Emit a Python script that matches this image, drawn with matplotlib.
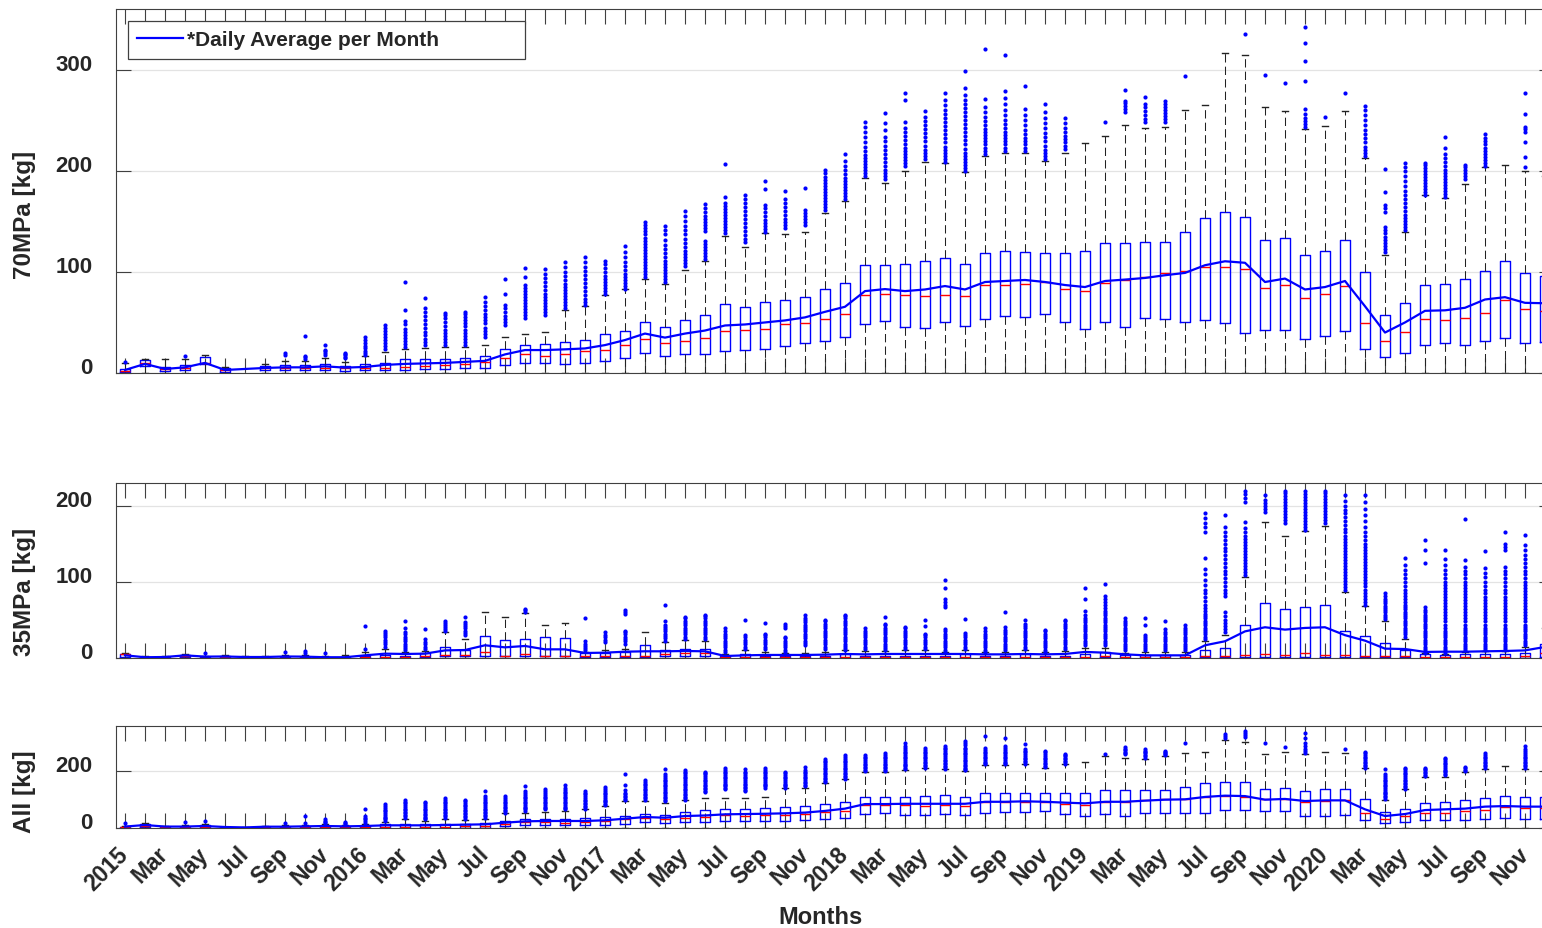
import matplotlib.pyplot as plt
import numpy as np

plt.rcParams['font.family'] = ['Liberation Sans', 'DejaVu Sans']
plt.rcParams['font.weight'] = 'bold'
plt.rcParams['text.color'] = '#262626'

nan = np.nan

# labels for every second month, Jan 2015 .. Nov 2020
tick_labels = ['2015', 'Mar', 'May', 'Jul', 'Sep', 'Nov',
               '2016', 'Mar', 'May', 'Jul', 'Sep', 'Nov',
               '2017', 'Mar', 'May', 'Jul', 'Sep', 'Nov',
               '2018', 'Mar', 'May', 'Jul', 'Sep', 'Nov',
               '2019', 'Mar', 'May', 'Jul', 'Sep', 'Nov',
               '2020', 'Mar', 'May', 'Jul', 'Sep', 'Nov']

# ---- 70MPa ----
q1_70 = [1, 7, 2, 3, 8.5, 1.3, nan, 2.6, 2.6, 2.6, 3.3, 2.3, 3, 3, 3, 3.6, 4, 4.6, 4.6, 8, 9.5, 10, 8.9, 10,
         11.8, 14.5, 20, 17, 18.4, 19, 22, 23, 24, 27, 30, 32, 36, 48.7, 51.6, 45.7, 45, 50.6, 46.7, 53, 56.6, 55, 58, 50.6,
         44, 50, 45.7, 54, 53, 50.6, 52, 49, 39.8, 42.8, 42.8, 34, 37, 41.8, 23.7, 15.5, 20, 27.6, 30, 28, 31.6, 35, 30, 31]
med_70 = [2, 9.5, 4, 4.6, 10, 3, nan, 5, 4.6, 4.6, 5, 4.6, 4.6, 5, 6, 7, 8, 8.5, 10.5, 14.5, 18.4, 17, 18.8, 22,
          23, 28, 34, 30, 32, 35, 42, 43, 44, 48, 49, 53, 58, 77.6, 78.6, 77.6, 76, 77, 76, 87.5, 87.5, 88.5, 90, 83.5,
          81, 89, 92, 95, 99, 101, 105, 105, 103, 84, 87, 74, 78, 86, 49.7, 32, 40.8, 53, 52, 54, 59.5, 72, 63, 61.5]
q3_70 = [4, 13, 6, 8, 15.5, 4.6, nan, 7.2, 7.9, 7.9, 9, 7, 9, 10, 13.5, 13.5, 14, 15, 17, 24, 27.6, 29, 31, 33,
         38.5, 41.8, 50, 45.7, 52, 57, 68, 65.5, 70, 72, 75, 83, 89.5, 107, 107, 107.6, 111, 114, 107.6, 119, 121, 120, 119, 119,
         121, 128.6, 129, 129.6, 130, 139.5, 153.6, 159, 154.6, 131.6, 133.5, 117, 120.4, 132, 100, 57, 68.8, 87.5, 87.8, 93.4, 101, 111, 99.3, 96]
whi_70 = [10, 14, 14, 14, 18, 6, nan, 9, 12, 12, 15, 11, 17, 21, 24, 25, 26, 26, 27.6, 36, 39, 41, 62, 66.5,
          77.6, 82.6, 93, 88, 102, 110.5, 135.5, 125, 138.5, 137.5, 139.5, 158.5, 170, 193, 188, 200, 209, 208, 199, 215, 218, 218, 210, 218,
          227.6, 234.5, 245.7, 242, 243, 260.5, 265.5, 316, 314.5, 262.8, 259.5, 241.4, 244.7, 259.5, 212.5, 117, 139.5, 175.7, 173.4, 187, 204, 206, 200, 195]
mean_70 = [3, 9, 4, 5.6, 10, 3, nan, 5, 5.6, 5.6, 6.6, 5.3, 6, 8, 9, 9.5, 10, 11, 12, 18.4, 22.7, 22.7, 23.4, 24.3,
           27.6, 32.6, 39, 35, 39, 42, 47, 48, 50, 52, 55, 60.5, 65.5, 81, 83, 81, 82.6, 86, 82.6, 90, 91, 92, 90, 87,
           85, 91, 92.4, 94, 96.7, 99, 106.6, 110.5, 109, 90, 93.4, 82.6, 85, 91, 66, 40, 50, 61.5, 62, 64.5, 72.7, 75, 69.4, 69]
fl_70 = [
    [11], [], [], [17], [], [], [], [], [18, 20], [14, 16, 17, 37],
    [18, 20, 22, 23, 28], [15, 16, 18, 19, 20], [18, 20, 22, 25, 27, 30, 33, 36],
    [24, 27, 30, 33, 36, 39, 42, 45, 47],
    [26, 29, 32, 35, 38, 41, 44, 48, 51, 62, 90],
    [28, 31, 34, 38, 41, 45, 48, 52, 56, 60, 64, 74],
    [28, 31, 34, 37, 40, 43, 46, 50, 54, 57, 59],
    [28, 31, 34, 37, 40, 43, 46, 49, 52, 55, 58, 60],
    [36, 39, 42, 45, 49, 52, 55, 58, 62, 66, 70, 75],
    [47, 50, 53, 56, 60, 64, 67, 78, 93],
    [54, 57, 60, 63, 66, 69, 72, 75, 78, 81, 84, 87, 95, 104],
    [57, 60, 63, 66, 69, 72, 75, 78, 82, 86, 90, 94, 98, 103],
    [64, 67, 70, 73, 76, 79, 82, 85, 88, 92, 96, 100, 105, 110],
    [67, 70, 73, 77, 81, 85, 89, 93, 97, 101, 105, 110, 115],
    [78, 81, 84, 87, 90, 93, 96, 100, 104, 108, 111],
    [83, 86, 89, 92, 95, 98, 102, 106, 110, 115, 120, 126],
    [95, 98, 101, 104, 107, 110, 113, 116, 119, 122, 125, 128, 131, 134, 137, 140, 143, 146, 149],
    [90, 93, 96, 99, 102, 105, 108, 111, 115, 119, 123, 127, 132, 137, 141, 145],
    [106, 109, 112, 115, 118, 121, 125, 129, 133, 137, 141, 145, 150, 155, 160],
    [113, 116, 119, 122, 125, 128, 131, 140, 143, 146, 149, 152, 155, 159, 163, 167],
    [138, 141, 144, 147, 150, 153, 156, 159, 162, 165, 168, 174, 207],
    [130, 133, 136, 140, 144, 148, 152, 156, 160, 164, 168, 172, 176],
    [139, 142, 145, 148, 151, 155, 159, 163, 166, 182, 190],
    [143, 146, 149, 152, 156, 160, 164, 168, 172, 180],
    [146, 149, 152, 155, 158, 161, 183],
    [161, 164, 167, 170, 173, 176, 179, 182, 185, 188, 191, 194, 198, 201],
    [172, 175, 178, 181, 184, 187, 190, 193, 197, 201, 205, 210, 217],
    [195, 198, 201, 204, 207, 210, 213, 216, 220, 224, 228, 233, 238, 243, 248],
    [192, 195, 198, 201, 205, 209, 213, 217, 221, 225, 229, 233, 240, 247, 257],
    [205, 208, 211, 214, 217, 220, 223, 226, 230, 234, 238, 242, 248, 270, 277],
    [212, 215, 218, 221, 225, 229, 233, 237, 241, 245, 249, 253, 259],
    [209, 212, 215, 218, 221, 224, 228, 232, 236, 240, 244, 248, 252, 256, 260, 265, 270, 277],
    [200, 203, 206, 209, 212, 215, 218, 222, 226, 230, 234, 238, 242, 246, 250, 254, 258, 262, 266, 270, 275, 282, 299],
    [217, 220, 223, 226, 229, 232, 235, 238, 241, 245, 249, 253, 258, 263, 271, 320],
    [220, 223, 226, 229, 232, 235, 238, 242, 246, 250, 255, 260, 266, 272, 279, 315],
    [220, 223, 226, 229, 232, 236, 240, 245, 250, 255, 261, 284],
    [212, 215, 218, 221, 225, 229, 233, 237, 242, 247, 252, 258, 266],
    [222, 225, 228, 231, 234, 238, 242, 247, 252],
    [], [248], [258, 261, 264, 267, 269, 280], [248, 251, 255, 259, 263, 266, 273],
    [248, 251, 254, 257, 260, 263, 266, 269], [294], [], [], [335], [295], [287],
    [243, 246, 249, 252, 256, 261, 289, 309, 326, 342], [253], [277],
    [215, 218, 221, 224, 228, 232, 236, 240, 245, 250, 255, 260, 264],
    [120, 123, 126, 129, 132, 135, 138, 141, 144, 159, 163, 166, 179, 202],
    [141, 144, 147, 150, 153, 156, 160, 164, 168, 172, 176, 180, 185, 190, 195, 200, 204, 208],
    [176, 179, 182, 185, 188, 191, 194, 197, 200, 203, 206, 208],
    [174, 177, 180, 183, 186, 189, 192, 195, 198, 201, 205, 209, 213, 217, 223, 233],
    [192, 195, 198, 201, 204, 206],
    [205, 208, 211, 214, 217, 220, 223, 226, 229, 232, 236],
    [], [204, 214, 228, 238, 241, 243, 256, 277], []]

# ---- 35MPa ----
q1_35 = [1.3, 0, 0, 1.3, 0, 0, 0, 0, 0, 0, 0, 0, 0, 0, 0, 1.3, 2.2, 2.2, 2.2, 2.2, 2.2, 2.2, 2.2, 1.3,
         1.3, 1, 1, 2.2, 2.2, 2.2, 0, 0, 0, 0, 0, 0, 0, 0, 0, 0, 0, 0, 0, 0, 0, 0, 0, 0,
         0, 1, 0, 0, 0, 0, 1, 1, 1, 1, 1, 1, 1, 1, 1, 1, 1, 0, 0, 0, 0, 0, 0, 1]
med_35 = [4.8, 0.5, 0.5, 2.5, 0.5, 1, 0.3, 0.3, 0.5, 0.5, 0.3, 0.3, 1, 1, 1, 2, 3.5, 4.4, 8.3, 2.2, 5.3, 2.6, 2.6, 2.6,
          2.6, 2.2, 2.2, 5.7, 6.6, 7, 1, 1, 1, 1, 1, 1, 1.5, 1, 1, 1, 1, 1, 1.5, 1, 1, 1.5, 1, 1,
          1.5, 2.2, 1, 1, 1, 1, 2.2, 2.2, 4.4, 4.8, 4, 7, 4.4, 3.5, 2.2, 2.2, 2.2, 1.3, 1, 1.5, 1.5, 1.5, 2, 6.6]
q3_35 = [5.7, 1, 1.5, 4.4, 1.5, 2, 1, 1, 1.5, 1.5, 1, 1, 3, 4, 3, 6.6, 15, 11, 29, 24, 25.4, 27.6, 26.8, 6.6,
         7, 8, 16.7, 10, 11.8, 11.4, 3, 4.8, 3, 3, 3, 3, 4.8, 3, 3, 3, 3, 3, 5.5, 3, 3, 5.5, 3, 3,
         5.5, 8, 4, 4, 4, 4, 10, 13, 43.8, 72, 65, 67.5, 70, 35.5, 28.5, 20, 10.5, 5.5, 4, 5, 5, 5, 6.6, 19]
whi_35 = [6, 2, 3, 5, 3, 4, 2, 2, 4, 4, 3, 4.4, 8, 12, 8, 8.8, 34, 24.6, 61, 53.5, 59, 43, 46, 8,
          10, 12, 34, 21, 23.7, 22.8, 5.5, 11, 8, 7, 7, 8, 10, 9, 9, 10, 10, 8, 10, 8, 8, 11, 8, 9,
          13, 13.6, 7, 8, 8, 8, 22, 30.7, 106.6, 179, 160.5, 166.7, 173.7, 87, 68.4, 49, 25.4, 6, 5.5, 8, 9, 9, 14.5, 40]
mean_35 = [3.5, 1, 1.3, 3.5, 1.8, 2, 1.3, 1.3, 2, 1.8, 1, 1, 3.5, 5.7, 5.3, 5.7, 10, 10.5, 16.7, 14, 15.8, 11.4, 11.4, 6.6,
           7, 8.3, 8.8, 8.8, 9.2, 8.8, 2.6, 3.5, 4, 4, 4, 4.4, 5.3, 4.8, 5.3, 5.3, 5.3, 5.3, 5.3, 4.8, 4.8, 5.3, 4.8, 5.3,
           8, 7, 4.8, 3.5, 3.5, 3.5, 16.7, 22, 35, 40.4, 37.3, 39.5, 40.4, 30, 22.8, 12.3, 11.8, 8, 8.3, 8.3, 8.8, 9.2, 10, 14.5]
fl_35 = [
    [], [], [], [], [7], [], [], [], [8], [7, 9], [7], [], [12, 42],
    [15, 18, 21, 24, 27, 30, 33, 36],
    [10, 13, 16, 19, 22, 25, 28, 31, 34, 39, 49],
    [12, 15, 18, 21, 25, 38],
    [35, 38, 41, 44, 46, 48],
    [30, 33, 36, 39, 42, 45, 47, 54],
    [], [], [61, 63, 65], [], [],
    [10, 13, 16, 19, 22, 53],
    [21, 24, 27, 30, 34],
    [19, 22, 25, 28, 31, 34, 36, 58, 61, 63],
    [],
    [23, 26, 29, 32, 35, 38, 41, 44, 48, 70],
    [25, 28, 31, 34, 37, 40, 43, 46, 49, 52, 54],
    [25, 28, 31, 34, 37, 40, 43, 46, 49, 52, 55, 57],
    [8, 11, 14, 17, 20, 23, 26, 29, 32, 35, 39],
    [12, 15, 18, 21, 24, 27, 30, 50],
    [12, 15, 18, 21, 24, 27, 30, 32, 46],
    [8, 11, 14, 17, 20, 23, 26, 28, 40, 42, 45],
    [17, 20, 23, 26, 29, 32, 35, 38, 41, 44, 47, 50, 53, 56],
    [12, 15, 18, 21, 24, 27, 30, 33, 36, 39, 42, 45, 48, 50],
    [10, 13, 16, 19, 22, 25, 28, 31, 34, 37, 40, 43, 46, 49, 52, 55, 57],
    [12, 15, 18, 21, 24, 27, 30, 33, 36, 40],
    [10, 13, 16, 19, 22, 25, 28, 31, 34, 37, 40, 43, 45, 54],
    [12, 15, 18, 21, 24, 27, 30, 33, 36, 39, 41],
    [12, 15, 18, 21, 24, 27, 30, 32, 42, 50],
    [8, 11, 14, 17, 20, 23, 26, 29, 32, 35, 38, 67, 70, 74, 77, 92, 102],
    [12, 15, 18, 21, 24, 27, 30, 33, 51],
    [8, 11, 14, 17, 20, 23, 26, 29, 32, 35, 39],
    [10, 13, 16, 19, 22, 25, 28, 31, 34, 37, 41, 60],
    [12, 15, 18, 21, 24, 27, 30, 33, 36, 39, 42, 45, 50],
    [8, 11, 14, 17, 20, 23, 26, 29, 32, 35, 37],
    [12, 15, 18, 21, 24, 27, 30, 33, 36, 39, 42, 45, 48, 50],
    [17, 20, 23, 26, 29, 32, 35, 38, 41, 44, 47, 50, 53, 56, 62, 78, 92],
    [17, 20, 23, 26, 29, 32, 35, 38, 41, 44, 47, 50, 53, 56, 59, 62, 66, 70, 74, 78, 82, 97],
    [10, 13, 16, 19, 22, 25, 28, 31, 34, 37, 40, 43, 46, 49, 52],
    [10, 13, 16, 19, 22, 25, 28, 30, 44, 53],
    [10, 13, 16, 19, 22, 25, 28, 31, 34, 38, 48],
    [10, 13, 16, 19, 22, 25, 28, 31, 34, 37, 40, 43],
    [25, 28, 31, 34, 37, 40, 43, 46, 49, 52, 55, 58, 62, 66, 70, 75, 80, 85, 90, 96, 102, 110, 117, 132, 166, 172, 178, 184, 190],
    [34, 38, 42, 46, 50, 55, 60, 82, 86, 90, 95, 100, 105, 110, 115, 120, 125, 130, 135, 140, 145, 150, 155, 160, 166, 172, 188],
    [109, 113, 117, 121, 125, 129, 133, 137, 141, 145, 149, 153, 157, 161, 166, 171, 179, 205, 210, 215, 220],
    [192, 196, 200, 204, 208, 214],
    [177, 181, 185, 189, 193, 197, 201, 205, 209, 213, 217, 220],
    [168, 172, 176, 180, 184, 188, 192, 196, 200, 204, 208, 212, 216, 220],
    [177, 181, 185, 189, 193, 197, 201, 205, 209, 213, 217, 220],
    [89, 93, 97, 101, 105, 109, 113, 117, 121, 125, 129, 133, 137, 141, 145, 149, 153, 157, 161, 165, 170, 175, 180, 185, 190, 195, 200, 206, 214],
    [70, 74, 78, 82, 86, 90, 94, 98, 102, 106, 110, 114, 118, 122, 126, 130, 134, 138, 142, 146, 150, 155, 160, 166, 172, 180, 188, 196, 205, 214],
    [51, 54, 57, 60, 63, 66, 69, 72, 75, 78, 81, 86],
    [28, 31, 34, 37, 40, 43, 46, 49, 52, 55, 58, 61, 64, 67, 70, 74, 78, 82, 86, 90, 95, 100, 105, 110, 116, 122, 131],
    [6, 9, 12, 15, 18, 21, 24, 27, 30, 33, 36, 39, 42, 45, 48, 51, 54, 57, 60, 63, 67, 125, 142, 155],
    [6, 9, 12, 15, 18, 21, 24, 27, 30, 33, 36, 40, 44, 48, 52, 56, 60, 64, 68, 72, 76, 80, 84, 88, 92, 96, 100, 105, 110, 116, 122, 130, 142],
    [10, 13, 16, 19, 22, 25, 28, 31, 34, 37, 40, 44, 48, 52, 56, 60, 64, 68, 72, 76, 80, 84, 88, 92, 96, 100, 105, 110, 115, 120, 129, 183],
    [10, 13, 16, 19, 22, 25, 28, 31, 34, 37, 40, 44, 48, 52, 56, 60, 64, 68, 72, 76, 80, 85, 90, 95, 100, 106, 112, 118, 141],
    [10, 13, 16, 19, 22, 25, 28, 31, 34, 37, 40, 44, 48, 52, 56, 60, 64, 68, 72, 76, 80, 85, 90, 95, 100, 105, 110, 115, 120, 142, 146, 150, 165],
    [17, 20, 23, 26, 29, 32, 35, 38, 41, 44, 48, 52, 56, 60, 64, 68, 72, 76, 80, 84, 88, 92, 96, 100, 105, 110, 115, 120, 125, 130, 136, 142, 148, 162],
    []]

# ---- All ----
q1_all = [0.5, 2, 0.5, 0.5, 0.5, 0.5, 0, 0.5, 0.5, 0.5, 0.5, 0.5, 0.5, 0.5, 0.5, 0.5, 0.5, 0.5, 0.5, 7, 9.4, 9.4, 9.4, 10.5,
          11.7, 15, 20, 16, 20, 21, 24.6, 24.6, 24.6, 25.7, 28, 30, 35, 48, 51.5, 44.4, 44.4, 49, 47, 54, 57, 56, 58.5, 50,
          42, 49, 42, 54, 52.6, 52.6, 54, 63, 63, 58.5, 58.5, 42, 42, 45.6, 27, 17.5, 21, 28, 28, 29, 33, 35, 33, 33]
med_all = [2, 8, 2, 2, 4, 1.5, 0.5, 2, 2, 2, 3, 2, 3, 4, 4, 5, 5, 6, 7, 14, 20, 21, 18.7, 22,
           24.6, 30, 35, 33, 36, 40, 44, 43, 44, 47, 50, 56, 60, 79.5, 79.5, 79.5, 78, 79.5, 78, 90, 91, 92, 92, 85,
           82, 91, 91, 98, 103, 103, 109, 112, 110, 100.6, 100.6, 91, 93.6, 97, 54, 33, 42, 54, 54, 58.5, 64, 75, 71, 71]
q3_all = [5, 14, 4, 5, 10.5, 3, 1, 4, 5, 5, 7, 5, 7, 13, 13, 13, 14, 14, 16, 25.7, 30, 32.7, 32.7, 34,
          38.6, 43, 50, 47, 57, 63, 68, 68, 70, 72.5, 77, 85, 91, 110, 110, 110, 112, 116, 110, 122, 124, 124, 122, 124,
          124, 132, 132, 132, 134.5, 145, 157, 162.6, 162.6, 138, 141.5, 131, 137, 138, 102, 57, 68, 89, 91, 98, 104, 113.5, 109, 110]
whi_all = [8, 16, 6, 12, 14, 5, 2, 8, 10, 10, 14, 10, 14, 21, 30, 25, 30, 28, 33, 51.5, 54, 57, 60, 65.5,
           77, 96, 96, 89, 97, 104, 105, 106, 109, 139, 141.5, 159, 171, 198, 198, 203.5, 209, 206, 200, 221, 221, 223, 212, 223,
           233, 252.6, 247, 243, 252.6, 262, 268, 309, 303, 258.5, 266.7, 261, 266.7, 264, 209, 97, 136, 179, 180, 196.5, 208, 217.5, 208, 200]
mean_all = [5, 10.5, 5, 5, 7, 3.5, 2, 4.6, 4.6, 5.8, 7, 5.8, 7, 9.4, 9.4, 9.4, 10.5, 11.7, 12.9, 18.7, 23.4, 24.6, 24.6, 24.6,
            27, 32.7, 38.6, 36, 42, 44, 48, 49, 50, 51.5, 54, 60, 68, 84, 84, 85, 85, 85, 85, 92, 92, 93.6, 92, 89,
            86.5, 92, 92, 96, 99.4, 100.6, 109, 113.5, 112, 99.4, 102, 94.7, 97, 97, 65.5, 42, 49, 63, 65.5, 68, 75, 77, 75, 75]
fl_all = [
    [16], [], [], [22], [25], [], [], [], [19], [18, 42], [18, 22, 26, 30], [13, 17, 21],
    [18, 24, 30, 36, 42, 68],
    [25, 30, 35, 40, 46, 52, 58, 64, 70, 76, 83],
    [36, 41, 46, 51, 56, 62, 68, 74, 80, 86, 92, 98],
    [30, 35, 40, 45, 50, 56, 62, 68, 74, 80, 86, 91],
    [36, 41, 46, 51, 56, 62, 68, 74, 80, 86, 92, 98, 104],
    [33, 38, 43, 48, 53, 58, 64, 70, 76, 82, 88, 94, 100],
    [36, 41, 46, 51, 56, 62, 68, 74, 80, 86, 92, 98, 105, 112, 129],
    [54, 59, 64, 69, 74, 80, 86, 92, 98, 105, 112],
    [60, 65, 70, 75, 80, 86, 92, 98, 104, 110, 116, 122, 130, 147],
    [65, 70, 75, 80, 86, 92, 98, 104, 110, 116, 122, 129, 136],
    [65, 70, 75, 80, 86, 92, 98, 104, 110, 116, 122, 128, 134, 140, 150],
    [68, 73, 78, 83, 88, 94, 100, 106, 112, 118, 124, 130],
    [80, 85, 90, 95, 100, 106, 112, 118, 124, 130, 137, 144],
    [98, 103, 108, 113, 118, 124, 132, 151, 190],
    [100, 105, 110, 115, 120, 126, 132, 138, 144, 150, 156, 162, 167],
    [95, 100, 105, 110, 116, 122, 128, 134, 140, 146, 152, 158, 164, 170, 176, 182, 188, 206],
    [100, 105, 110, 115, 120, 126, 132, 138, 144, 150, 156, 162, 168, 174, 180, 186, 192, 198, 203],
    [126, 131, 136, 141, 146, 152, 158, 164, 170, 176, 182, 188, 193, 198],
    [136, 141, 146, 151, 156, 162, 168, 174, 180, 186, 192, 198, 204, 212],
    [130, 135, 140, 145, 150, 156, 162, 168, 174, 180, 186, 192, 198, 206],
    [141, 146, 151, 156, 162, 168, 174, 180, 186, 192, 198, 204, 212],
    [141, 146, 151, 156, 162, 168, 174, 180, 186, 192, 197],
    [147, 152, 157, 162, 168, 174, 180, 186, 192, 198, 204, 214],
    [161, 166, 171, 176, 182, 188, 194, 200, 206, 212, 218, 224, 230, 236, 241],
    [173, 178, 183, 188, 194, 200, 206, 212, 218, 224, 230, 236, 242, 248, 256],
    [200, 205, 210, 215, 220, 226, 232, 238, 244, 250, 256],
    [200, 205, 210, 215, 220, 226, 232, 238, 244, 250, 256, 262],
    [206, 211, 216, 221, 226, 232, 238, 244, 250, 256, 262, 268, 274, 280, 288, 299],
    [212, 217, 222, 227, 232, 238, 244, 250, 256, 262, 268, 275, 282],
    [208, 213, 218, 223, 228, 234, 240, 246, 252, 258, 264, 270, 276, 282, 288],
    [202, 207, 212, 217, 222, 228, 234, 240, 246, 252, 258, 264, 270, 276, 282, 290, 297, 305],
    [223, 228, 233, 238, 244, 250, 256, 262, 268, 274, 282, 323],
    [223, 228, 233, 238, 244, 250, 256, 262, 268, 274, 280, 288, 317],
    [226, 231, 236, 241, 247, 253, 259, 265, 271, 276, 294],
    [214, 219, 224, 229, 235, 241, 247, 253, 259, 265, 270],
    [226, 231, 236, 241, 246, 251, 256, 261],
    [], [258], [258, 263, 268, 273, 278, 284], [247, 252, 257, 262, 267, 272, 276],
    [255, 259, 263, 268, 272], [297], [], [317, 323, 329], [320, 326, 332, 340], [297], [285],
    [264, 270, 276, 288, 300, 316, 332], [], [278],
    [212, 217, 222, 227, 232, 238, 244, 250, 256, 262, 268],
    [103, 108, 113, 118, 123, 128, 134, 140, 146, 152, 158, 164, 170, 176, 182, 188, 206],
    [138, 143, 148, 153, 158, 164, 170, 176, 182, 188, 194, 200, 206, 212],
    [182, 187, 192, 197, 202, 207, 212],
    [185, 190, 195, 200, 205, 211, 217, 223, 229, 235, 241, 247],
    [200, 205, 210, 215],
    [212, 217, 222, 227, 232, 238, 244, 250, 256, 262],
    [],
    [212, 217, 222, 227, 232, 238, 244, 250, 256, 262, 270, 279, 288],
    []]

W, H = 1542, 929
fig = plt.figure(figsize=(W / 100, H / 100), dpi=100)


def panel(top, bottom):
    # pixel box -> figure fraction
    return fig.add_axes([116 / W, 1 - bottom / H, (1554 - 116) / W, (bottom - top) / H])


def draw(ax, q1, med, q3, whi, mean, fliers, ymax, yticks):
    stats, pos = [], []
    for i in range(len(med)):
        if np.isnan(med[i]):
            continue
        stats.append(dict(q1=q1[i], med=med[i], q3=q3[i], whislo=0, whishi=whi[i],
                          fliers=np.array(fliers[i], dtype=float)))
        pos.append(i)
    ax.bxp(stats, positions=pos, widths=0.5, capwidths=0.3, manage_ticks=False,
           boxprops=dict(color='blue', lw=1.0),
           medianprops=dict(color='red', lw=1.0),
           whiskerprops=dict(color='#222222', lw=0.75, ls=(0, (8, 4))),
           capprops=dict(color='#222222', lw=1.0),
           flierprops=dict(marker='o', ms=3, mfc='blue', mec='none', ls='none'))
    m = np.array(mean, dtype=float)
    ok = ~np.isnan(m)
    line, = ax.plot(np.arange(len(m))[ok], m[ok], color='blue', lw=1.6, zorder=5)

    ax.set_xlim(-0.45, 71.45)
    ax.set_ylim(0, ymax)
    ax.set_xticks(range(72))
    ax.set_yticks(yticks)
    ax.yaxis.grid(True, color='#e3e3e3', lw=0.9)
    ax.set_axisbelow(True)
    ax.tick_params(axis='x', direction='in', length=10.8, width=0.8, color='#404040',
                   top=True, bottom=True, labelbottom=False)
    ax.tick_params(axis='y', direction='in', length=10.8, width=0.8, color='#404040',
                   left=True, right=True, labelsize=16, labelcolor='#262626', pad=17)
    plt.setp(ax.get_yticklabels(), va='baseline', fontweight='bold')
    for s in ax.spines.values():
        s.set_color('#404040')
        s.set_linewidth(0.8)
    return line


ax1 = panel(10, 374)
line = draw(ax1, q1_70, med_70, q3_70, whi_70, mean_70, fl_70, 360, [0, 100, 200, 300])
ax1.legend([line], ['*Daily Average per Month'], loc='upper left',
           bbox_to_anchor=(12 / 1438, 1 - 48 / 364, 397 / 1438, 36 / 364), mode='expand',
           borderaxespad=0, fancybox=False, framealpha=1, edgecolor='#404040',
           prop={'size': 15, 'weight': 'bold'}, handlelength=2.2, handletextpad=0.2,
           borderpad=0.45)
ax1.get_legend().get_frame().set_linewidth(0.9)

ax2 = panel(484, 659)
draw(ax2, q1_35, med_35, q3_35, whi_35, mean_35, fl_35, 230, [0, 100, 200])

ax3 = panel(727, 829)
draw(ax3, q1_all, med_all, q3_all, whi_all, mean_all, fl_all, 358, [0, 200])
labels = []
for i in range(72):
    labels.append(tick_labels[i // 2] if i % 2 == 0 else '')
ax3.set_xticklabels(labels)
ax3.tick_params(axis='x', labelbottom=True, labelsize=16.5, labelcolor='#262626', pad=16)
plt.setp(ax3.get_xticklabels(), rotation=45, ha='right', va='center',
         rotation_mode='anchor', fontweight='bold')

fig.text(24 / W, 1 - 215 / H, '70MPa [kg]', rotation=90, ha='center', va='center', fontsize=17.5)
fig.text(24 / W, 1 - 592 / H, '35MPa [kg]', rotation=90, ha='center', va='center', fontsize=17.5)
fig.text(24 / W, 1 - 792 / H, 'All [kg]', rotation=90, ha='center', va='center', fontsize=17.5)
fig.text(820 / W, 1 - 918 / H, 'Months', ha='center', va='center', fontsize=17)

plt.savefig('out.png', dpi=100)
